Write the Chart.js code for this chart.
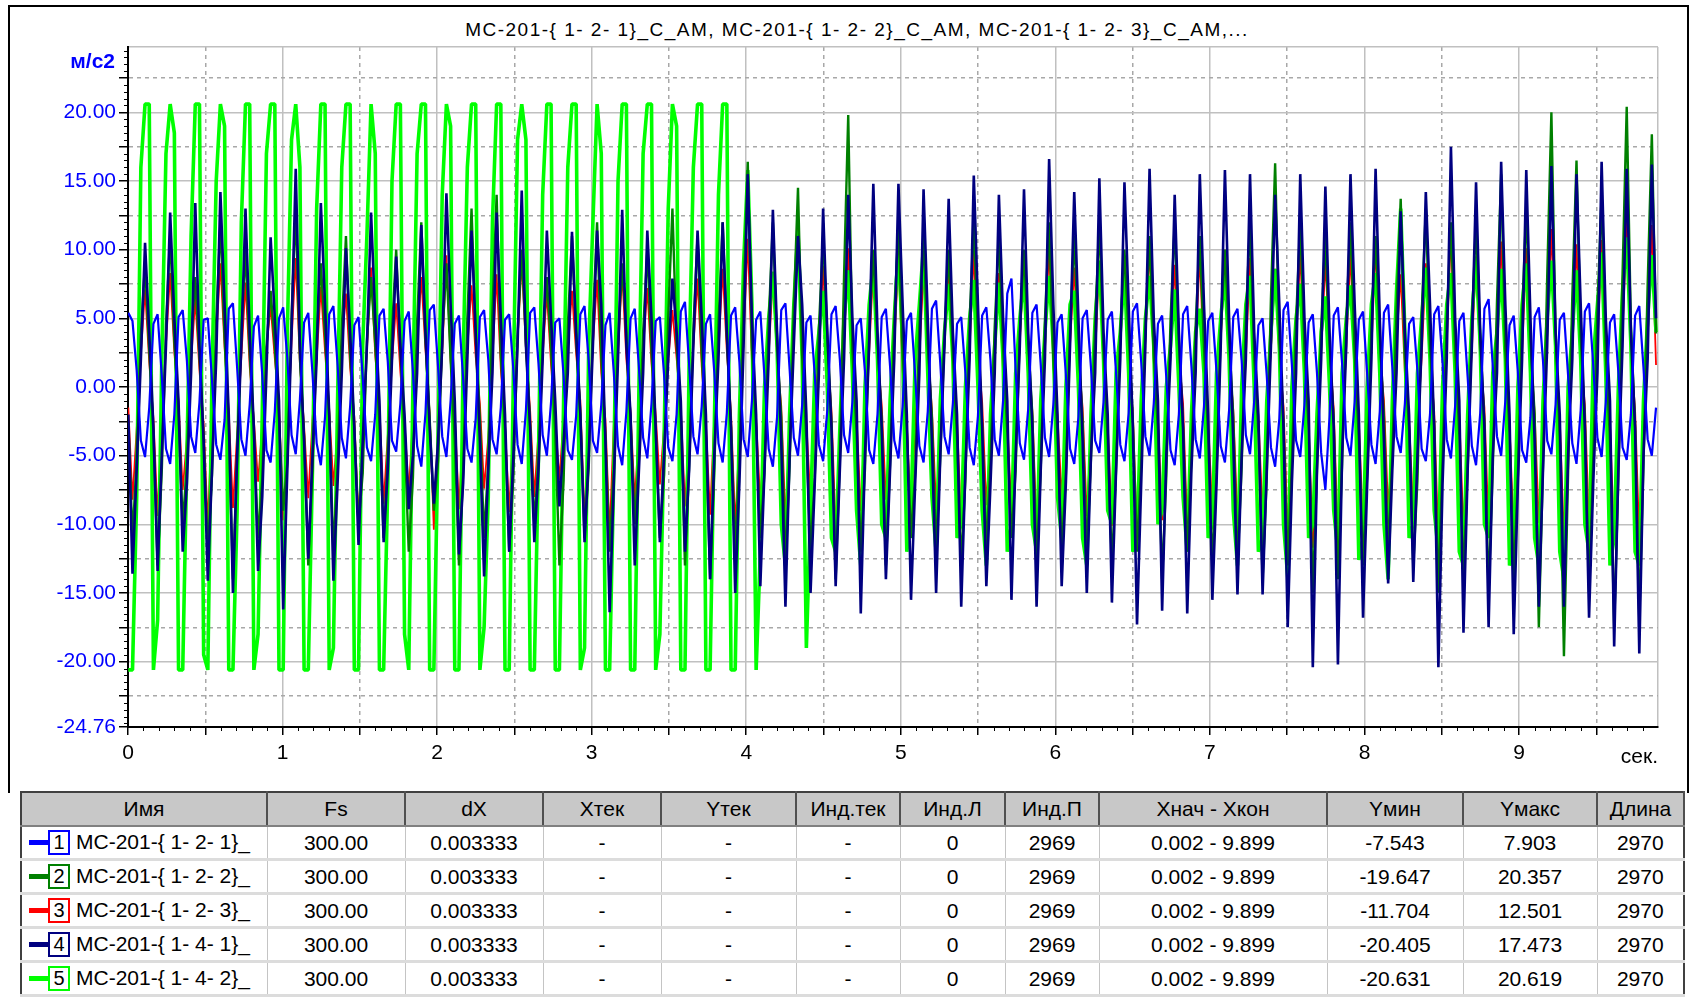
<!DOCTYPE html>
<html lang="ru">
<head>
<meta charset="utf-8">
<title>MC-201</title>
<script src="https://cdn.jsdelivr.net/npm/chart.js@4.4.1/dist/chart.umd.min.js"></script>
<style>
  body { margin: 0; background: #fff; font-family: "Liberation Sans", Arial, sans-serif; }
  #frame { position: absolute; left: 8px; top: 5px; width: 1677px; height: 786px; border: 2px solid #000; border-bottom: none; }
  #title { position: absolute; left: 357px; top: 19px; width: 1000px; text-align: center; font-size: 19px; letter-spacing: 1.5px; line-height: 22px; color: #000; white-space: nowrap; }
  #wrap { position: absolute; left: 0; top: 0; width: 1695px; height: 790px; }
  table { position: absolute; left: 20px; top: 791px; width: 1663px; border-collapse: collapse; table-layout: fixed; font-size: 21px; border: 2px solid #404040; }
  th { background: #c8c8c8; font-weight: normal; height: 32px; padding: 0; border-right: 2px solid #505050; border-bottom: 2px solid #808080; }
  td { height: 31px; padding: 0; text-align: center; border-right: 1px solid #c4c4c4; border-bottom: 3px solid #dcdcdc; white-space: nowrap; overflow: hidden; }
  td.name { text-align: left; }
  .mk { display: inline-block; vertical-align: middle; width: 19px; height: 5px; margin-left: 7px; }
  .bx { display: inline-block; vertical-align: middle; width: 18px; height: 21px; border: 2px solid; line-height: 21px; text-align: center; font-size: 20px; color: #000; margin-right: 6px; }
</style>
</head>
<body>
<div id="frame"></div>
<div id="title">MC-201-{ 1- 2- 1}_C_AM, MC-201-{ 1- 2- 2}_C_AM, MC-201-{ 1- 2- 3}_C_AM,...</div>
<div id="wrap"><canvas id="signals" width="1695" height="790"></canvas></div>
<table id="info"></table>
<script>
const ctx = document.getElementById('signals');

// time base of the plotted samples (every ~8th sample, 6 per cycle)
const t0 = 0.002;
const step = 0.02708;

const names = ['MC-201-{ 1- 2- 1}_', 'MC-201-{ 1- 2- 2}_', 'MC-201-{ 1- 2- 3}_', 'MC-201-{ 1- 4- 1}_', 'MC-201-{ 1- 4- 2}_'];
const colors = ['#0000ff', '#008000', '#ff0000', '#000080', '#00ff00'];
const lineWidths = [2.2, 2.4, 1.8, 2.6, 3.6];
const drawOrder = [1, 3, 5, 2, 4];
const yMin = ['-7.543', '-19.647', '-11.704', '-20.405', '-20.631'];
const yMax = ['7.903', '20.357', '12.501', '17.473', '20.619'];

const xTickValues = [0, 0.5, 1, 1.5, 2, 2.5, 3, 3.5, 4, 4.5, 5, 5.5, 6, 6.5, 7, 7.5, 8, 8.5, 9, 9.5, 9.899];
const yTickValues = [-24.76, -22.5, -20, -17.5, -15, -12.5, -10, -7.5, -5, -2.5, 0, 2.5, 5, 7.5, 10, 12.5, 15, 17.5, 20, 22.5, 24.76];

// 1-2-1 (blue)
const acc1 = [
  5.4, 4.8, 1.2, -3.9, -5.1, -1.5,  4.6, 5.3, 0.8, -4.5, -5.6, -2.0,
  5.1, 5.6, 1.9, -3.6, -4.8, -1.1,  4.9, 5.0, 0.5, -4.2, -5.3, -2.4,
  5.7, 6.1, 1.4, -3.8, -5.0, -1.3,  4.4, 5.2, 0.9, -4.6, -5.5, -1.8,
  5.0, 5.8, 2.1, -3.5, -4.9, -0.9,  4.7, 5.4, 1.0, -4.1, -5.7, -2.2,
  5.3, 5.9, 1.6, -3.7, -5.2, -1.4,  4.5, 5.1, 0.7, -4.4, -5.4, -2.0,
  5.2, 5.7, 1.8, -3.9, -4.7, -1.2,  4.8, 5.5, 1.1, -4.3, -5.8, -1.9,
  5.6, 6.0, 1.5, -3.6, -5.1, -1.0,  4.6, 5.2, 0.6, -4.5, -5.5, -2.3,
  5.1, 5.6, 2.0, -3.8, -4.9, -1.5,  4.9, 5.3, 1.2, -4.2, -5.6, -1.7,
  5.4, 5.8, 1.7, -3.5, -5.0, -1.1,  4.7, 5.0, 0.8, -4.6, -5.3, -2.1,
  5.3, 5.9, 1.9, -3.9, -4.8, -1.3,  4.5, 5.4, 1.0, -4.3, -5.7, -1.8,
  5.0, 5.7, 1.4, -3.7, -5.2, -1.2,  4.8, 5.1, 0.9, -4.4, -5.4, -2.0,
  5.5, 6.2, 1.6, -3.6, -4.9, -1.4,  4.6, 5.3, 1.1, -4.1, -5.5, -1.9,
  5.2, 5.8, 1.8, -3.8, -5.1, -1.0,  4.9, 5.5, 0.7, -4.5, -5.8, -2.2,
  5.6, 6.1, 1.3, -3.7, -5.0, -1.3,  4.7, 5.2, 0.9, -4.2, -5.4, -1.7,
  5.3, 5.9, 2.0, -3.5, -4.8, -1.1,  4.5, 5.0, 1.1, -4.6, -5.6, -2.0,
  5.1, 5.7, 1.5, -3.9, -5.2, -1.4,  4.8, 5.4, 0.8, -4.3, -5.5, -1.8,
  5.7, 6.3, 1.7, -3.6, -4.9, -1.2,  4.6, 5.1, 1.0, -4.4, -5.7, -2.1,
  5.2, 5.8, 1.9, -3.8, -5.0, -1.0,  6.8, 7.9, 1.2, -4.1, -5.3, -1.6,
  5.4, 6.0, 1.6, -3.7, -5.1, -1.3,  4.7, 5.3, 0.9, -4.5, -5.6, -2.2,
  5.0, 5.6, 1.4, -3.9, -4.8, -1.1,  4.9, 5.5, 1.0, -4.2, -5.4, -1.9,
  5.5, 6.1, 1.8, -3.6, -5.0, -1.2,  4.6, 5.2, 0.7, -4.6, -5.7, -2.0,
  5.3, 5.9, 1.5, -3.8, -5.2, -1.4,  4.8, 5.4, 1.1, -4.3, -5.5, -1.7,
  5.1, 5.7, 1.9, -3.5, -4.9, -1.0,  4.5, 5.0, 0.8, -4.4, -5.8, -2.3,
  5.6, 6.2, 1.6, -3.9, -5.1, -1.3,  4.7, 5.3, 1.0, -4.8, -7.5, -2.1,
  5.2, 5.8, 1.7, -3.7, -5.0, -1.1,  4.9, 5.5, 0.9, -4.2, -5.6, -1.8,
  5.4, 6.0, 1.4, -3.6, -4.8, -1.2,  4.6, 5.1, 1.2, -4.5, -5.4, -2.0,
  5.3, 5.9, 1.8, -3.8, -5.2, -1.4,  4.8, 5.4, 0.7, -4.3, -5.7, -1.9,
  5.7, 6.4, 1.5, -3.6, -5.0, -1.0,  4.5, 5.2, 1.0, -4.6, -5.5, -2.2,
  5.1, 5.8, 1.9, -3.9, -4.9, -1.3,  4.9, 5.4, 0.8, -4.1, -5.6, -1.7,
  5.5, 6.1, 1.6, -3.7, -5.1, -1.1,  4.7, 5.3, 1.1, -4.4, -5.3, -2.0,
  5.2, 5.9, 1.4, -3.8, -5.0, -1.5
];

// 1-2-2 (green)
const acc2 = [
  -2.6, -11.0, -5.2, 3.8, 9.0, 2.7,  -3.4, -13.0, -6.1, 4.5, 11.0, 3.3,
  -2.1, -10.0, -5.7, 3.1, 8.0, 2.2,  -3.8, -12.0, -6.4, 4.9, 12.0, 3.6,
  -2.9, -14.0, -5.0, 4.0, 10.0, 2.5,  -3.2, -11.0, -6.7, 2.9, 7.0, 3.0,
  -2.4, -9.0, -5.5, 5.2, 13.0, 2.1,  -3.6, -13.0, -6.0, 3.6, 9.0, 3.8,
  -2.2, -12.0, -5.8, 4.3, 11.0, 2.4,  -3.0, -10.0, -6.3, 3.3, 8.0, 3.1,
  -2.7, -11.0, -5.1, 4.1, 10.0, 2.6,  -3.5, -12.0, -6.6, 4.7, 12.0, 3.4,
  -2.3, -9.0, -5.4, 3.5, 9.0, 2.0,  -3.9, -13.0, -6.2, 5.0, 13.0, 3.7,
  -2.5, -11.0, -5.6, 5.5, 14.0, 2.3,  -3.1, -12.0, -6.5, 3.9, 10.0, 3.2,
  -2.8, -10.0, -5.3, 3.2, 8.0, 2.8,  -3.3, -13.0, -6.8, 4.4, 11.0, 3.5,
  -2.0, -11.0, -5.9, 4.8, 12.0, 2.2,  -3.7, -12.0, -6.0, 3.4, 9.0, 3.9,
  -2.6, -10.0, -5.2, 4.0, 10.0, 2.6,  -3.2, -11.0, -6.4, 5.1, 13.0, 3.1,
  -2.4, -13.0, -5.7, 4.2, 11.0, 2.4,  -3.6, -14.0, -6.1, 4.6, 12.0, 3.6,
  -2.9, -12.0, -5.5, 6.5, 16.4, 2.9,  -3.0, -11.0, -6.2, 4.7, 12.0, 3.0,
  -2.2, -13.0, -5.8, 5.8, 14.5, 2.2,  -3.8, -12.0, -6.6, 4.3, 11.0, 3.8,
  -2.7, -14.0, -5.3, 8.0, 19.8, 2.7,  -3.4, -12.0, -6.0, 3.9, 10.0, 3.4,
  -2.5, -13.0, -5.6, 4.8, 12.0, 2.5,  -3.1, -11.0, -6.3, 4.4, 11.0, 3.1,
  -2.3, -12.0, -5.1, 3.9, 10.0, 2.3,  -3.7, -13.0, -6.7, 4.8, 12.0, 3.7,
  -2.8, -12.0, -5.4, 4.4, 11.0, 2.8,  -3.3, -11.0, -6.1, 4.0, 10.0, 3.3,
  -2.1, -13.0, -5.9, 4.9, 12.0, 2.1,  -3.5, -12.0, -6.4, 4.3, 11.0, 3.5,
  -2.6, -12.0, -5.2, 4.7, 12.0, 2.6,  -3.9, -13.0, -6.0, 4.1, 10.0, 3.9,
  -2.4, -12.0, -5.7, 4.5, 11.0, 2.4,  -3.2, -14.0, -6.5, 4.8, 12.0, 3.2,
  -2.9, -12.0, -5.3, 4.4, 11.0, 2.9,  -3.6, -13.0, -6.2, 4.0, 10.0, 3.6,
  -2.2, -13.0, -5.8, 4.9, 12.0, 2.2,  -3.4, -14.0, -6.6, 6.5, 16.3, 3.4,
  -2.7, -13.0, -5.5, 4.8, 12.0, 2.7,  -3.0, -15.0, -6.1, 4.4, 11.0, 3.0,
  -2.5, -14.0, -5.6, 4.9, 12.0, 2.5,  -3.8, -13.0, -6.3, 4.5, 11.0, 3.8,
  -2.3, -12.0, -5.0, 5.5, 13.7, 2.3,  -3.1, -13.0, -6.8, 5.2, 13.0, 3.1,
  -2.8, -15.0, -5.4, 4.8, 12.0, 2.8,  -3.5, -14.0, -6.0, 4.7, 12.0, 3.5,
  -2.6, -15.0, -5.9, 6.2, 15.5, 2.6,  -3.3, -14.0, -6.4, 5.2, 13.0, 3.3,
  -2.0, -17.5, -5.7, 8.0, 20.0, 4.0,  -3.7, -19.6, -6.2, 6.6, 16.5, 3.7,
  -2.4, -15.0, -5.3, 5.6, 14.0, 2.4,  -3.9, -17.5, -6.7, 8.2, 20.4, 4.5,
  -2.9, -17.0, -5.6, 7.4, 18.4, 3.9
];

// 1-2-3 (red)
const acc3 = [
  -1.5, -8.2, -3.1, 2.4, 7.1, 1.8,  -2.3, -9.4, -2.6, 3.1, 8.3, 2.5,
  -1.1, -7.5, -3.8, 1.9, 6.4, 1.2,  -2.7, -10.1, -2.2, 3.5, 9.0, 2.9,
  -1.8, -8.8, -3.4, 2.2, 7.6, 1.5,  -2.4, -6.9, -2.9, 2.8, 5.9, 2.1,
  -1.3, -9.7, -3.6, 3.3, 9.4, 1.7,  -2.9, -8.1, -2.4, 2.0, 7.3, 2.6,
  -1.6, -7.2, -3.2, 3.0, 6.8, 1.4,  -2.2, -9.9, -2.7, 2.6, 8.7, 2.3,
  -1.4, -8.5, -3.5, 1.8, 6.1, 1.1,  -2.6, -7.7, -2.3, 3.2, 8.0, 2.7,
  -1.9, -10.4, -3.0, 2.5, 9.6, 1.9,  -2.1, -8.9, -2.8, 2.9, 7.4, 2.2,
  -1.2, -7.4, -3.7, 2.1, 8.2, 1.3,  -2.8, -9.1, -2.5, 3.4, 9.2, 2.8,
  -1.7, -8.0, -3.3, 2.3, 6.9, 1.6,  -2.5, -6.8, -2.1, 2.7, 7.0, 2.4,
  -1.0, -9.6, -3.9, 3.1, 7.8, 1.0,  -2.4, -10.8, -2.6, 2.4, 8.4, 2.0,
  -1.8, -8.3, -3.1, 2.8, 7.2, 1.7,  -2.0, -7.1, -2.9, 1.9, 5.6, 2.1,
  -1.5, -8.7, -3.4, 3.0, 7.9, 1.5,  -2.7, -9.3, -2.2, 2.6, 8.6, 2.6,
  -1.9, -10.2, -3.6, 3.6, 10.8, 1.8,  -2.3, -8.6, -2.7, 2.3, 8.1, 2.2,
  -1.4, -9.8, -3.2, 4.1, 12.5, 1.4,  -2.6, -8.4, -2.4, 2.7, 8.8, 2.5,
  -1.7, -10.5, -3.8, 3.3, 10.1, 1.9,  -2.2, -9.0, -2.5, 2.5, 8.9, 2.3,
  -1.3, -8.2, -3.3, 3.0, 9.3, 1.2,  -2.8, -9.5, -2.6, 2.2, 8.5, 2.7,
  -1.6, -8.8, -3.5, 3.4, 9.0, 1.6,  -2.5, -10.0, -2.3, 2.8, 9.8, 2.4,
  -1.1, -8.6, -3.7, 2.1, 8.3, 1.1,  -2.4, -9.2, -2.8, 3.2, 9.5, 2.3,
  -1.8, -10.3, -3.0, 2.6, 10.4, 1.7,  -2.1, -8.0, -2.9, 3.1, 8.7, 2.0,
  -1.5, -9.4, -3.4, 2.4, 9.1, 1.5,  -2.7, -10.1, -2.2, 2.9, 9.6, 2.6,
  -1.9, -10.9, -3.6, 3.5, 10.2, 1.8,  -2.3, -9.7, -2.5, 2.3, 8.9, 2.2,
  -1.2, -10.4, -3.2, 2.7, 9.7, 1.3,  -2.6, -9.1, -2.6, 3.3, 10.0, 2.5,
  -1.7, -9.8, -3.8, 2.2, 9.4, 1.6,  -2.2, -9.3, -2.4, 2.8, 8.6, 2.1,
  -1.4, -10.7, -3.1, 3.1, 9.9, 1.4,  -2.8, -11.7, -2.7, 2.5, 9.2, 2.8,
  -1.6, -11.2, -3.5, 3.0, 9.8, 1.5,  -2.5, -10.3, -2.3, 2.6, 10.3, 2.4,
  -1.0, -9.0, -3.9, 3.4, 8.2, 1.0,  -2.4, -9.2, -2.8, 2.1, 9.0, 2.3,
  -1.8, -11.4, -3.0, 3.2, 11.2, 1.7,  -2.0, -10.6, -2.9, 2.7, 9.5, 2.0,
  -1.5, -10.4, -3.4, 3.6, 10.6, 1.5,  -2.7, -10.8, -2.2, 2.4, 10.1, 2.6,
  -1.9, -9.9, -3.6, 3.8, 11.5, 1.8,  -2.3, -11.0, -2.5, 3.0, 10.4, 2.2,
  -1.3, -10.2, -3.3, 2.8, 10.7, 1.3,  -2.6, -11.3, -2.6, 3.9, 12.1, 2.5,
  -1.7, -11.1, -3.7, 3.4, 11.8, 1.6
];

// 1-4-1 (navy)
const acc4 = [
  -2, -13.6, -6, 2, 10.5, 4,  -3, -13.4, -5, 3, 12.7, 5,
  -1, -12.0, -7, 1, 13.4, 3,  -4, -14.1, -6, 2, 14.2, 6,
  -2, -15.0, -5, 3, 13.0, 4,  -3, -13.4, -8, 1, 10.9, 5,
  -1, -16.2, -6, 4, 15.9, 3,  -4, -12.5, -5, 2, 13.4, 6,
  -2, -14.1, -7, 1, 10.1, 4,  -3, -11.5, -4, 3, 12.7, 5,
  -1, -11.3, -6, 2, 9.5, 3,  -2, -8.9, -5, 1, 11.8, 4,
  -3, -8.5, -4, 3, 14.1, 6,  -1, -12.2, -7, 2, 11.4, 4,
  -4, -13.8, -6, 1, 12.7, 5,  -2, -12.0, -5, 3, 14.3, 3,
  -3, -11.3, -6, 2, 11.4, 5,  -1, -8.7, -4, 1, 11.3, 4,
  -2, -11.3, -5, 3, 11.4, 6,  -4, -16.4, -7, 2, 12.9, 3,
  -2, -13.0, -6, 1, 11.4, 5,  -3, -11.3, -5, 2, 7.9, 4,
  -1, -12.0, -6, 3, 11.4, 5,  -2, -14.0, -5, 2, 12.0, 4,
  -3, -15.0, -7, 3, 15.5, 5,  -2, -14.5, -6, 2, 12.9, 4,
  -4, -16.0, -5, 3, 11.0, 6,  -2, -15.0, -7, 1, 13.0, 4,
  -3, -14.5, -6, 2, 14.0, 5,  -1, -16.5, -5, 3, 14.8, 4,
  -3, -14.0, -6, 2, 14.8, 6,  -2, -15.5, -7, 1, 14.4, 5,
  -4, -15.0, -5, 3, 13.7, 4,  -2, -16.0, -6, 2, 15.4, 6,
  -3, -14.5, -7, 1, 14.0, 5,  -1, -15.5, -5, 3, 14.4, 4,
  -3, -16.0, -6, 2, 16.6, 6,  -2, -14.5, -7, 3, 14.2, 5,
  -4, -15.0, -5, 1, 15.2, 4,  -2, -15.7, -6, 2, 14.9, 6,
  -3, -17.3, -7, 3, 15.9, 5,  -1, -16.3, -5, 2, 14.0, 4,
  -3, -16.5, -6, 1, 15.5, 6,  -2, -15.5, -7, 3, 15.8, 5,
  -4, -15.1, -5, 2, 15.5, 4,  -2, -15.1, -6, 3, 14.0, 6,
  -3, -17.5, -7, 1, 15.5, 5,  -1, -20.4, -6, 2, 14.6, 4,
  -3, -20.2, -5, 3, 15.5, 6,  -2, -16.8, -7, 2, 15.9, 5,
  -4, -14.3, -6, 1, 12.8, 4,  -2, -14.2, -5, 3, 14.2, 6,
  -3, -20.4, -7, 2, 17.5, 5,  -1, -17.9, -6, 3, 14.9, 4,
  -3, -17.5, -5, 1, 16.4, 6,  -2, -18.0, -7, 2, 15.8, 5,
  -4, -16.0, -6, 3, 16.1, 4,  -2, -16.0, -5, 2, 15.5, 6,
  -3, -16.8, -7, 1, 16.4, 5,  -1, -18.9, -6, 3, 15.9, 4,
  -3, -19.4, -5, 2, 16.2, 5
];

// 1-4-2 (light green)
const acc5 = [
  -20.6, -20.6, -8, 16, 20.6, 20.6,  -20.6, -17, 2, 17, 20.6, 18.5,
  -20.6, -20.6, -5, 11, 20.6, 20.6,  -19.5, -20.6, 1, 15, 20.6, 19,
  -20.6, -20.6, -9, 12, 20.6, 20.6,  -20.6, -18, -2, 17, 20.6, 20.6,
  -20.6, -20.6, 4, 18, 20.6, 16,  -20.6, -20.6, -6, 13, 20.6, 20.6,
  -20.6, -19, -1, 16, 20.6, 20.6,  -20.6, -20.6, 3, 11, 20.6, 17,
  -20.6, -20.6, -7, 15, 20.6, 20.6,  -18, -20.6, 0, 17, 20.6, 20.6,
  -20.6, -20.6, -4, 14, 20.6, 19,  -20.6, -20.6, 2, 16, 20.6, 20.6,
  -20.6, -17.5, -8, 12, 20.6, 20.6,  -20.6, -20.6, 1, 18, 20.6, 18,
  -20.6, -20.6, -5, 14, 20.6, 20.6,  -20.6, -20.6, -1, 16, 20.6, 20.6,
  -20.6, -19, 3, 12, 20.6, 17,  -20.6, -20.6, -6, 15, 20.6, 20.6,
  -20.6, -20.6, 0, 17, 20.6, 20.6,  -20.6, -18, -4, 13, 20.6, 19,
  -20.6, -20.6, 2, 16, 20.6, 20.6,  -20.6, -20.6, -3, 14, 20.6, 20.6,
  -20.6, -20.6, -2, 9, 15.8, 6,  -20.6, -12, 0, 5, 8.4, 3,
  -10, -13, -2, 6, 11.4, 2,  -19, -9, 1, 4, 7, 0,
  -11, -12, -3, 5, 8.5, 1,  -9, -13, 0, 6, 9, 2,
  -10, -11, -1, 5, 10.3, 3,  -12, -9, 2, 6, 10.3, 1,
  -8, -12, -1, 4, 7.5, 2,  -11, -10, 0, 5, 7.8, 0,
  -9, -13, -2, 3, 7.6, 2,  -12, -10, 1, 5, 8.1, 1,
  -10, -12, -1, 4, 8.1, 3,  -8, -11, 0, 6, 7, 0,
  -11, -13, -2, 5, 9.2, 2,  -9, -10, 1, 4, 8.4, 1,
  -12, -11, -1, 5, 8.1, 3,  -10, -9, 0, 3, 7.1, 0,
  -8, -12, -2, 4, 5.7, 1,  -11, -10, 1, 5, 8.2, 2,
  -9, -13, 0, 6, 8.1, 0,  -12, -11, -1, 4, 8.6, 3,
  -10, -13.8, 0, 5, 7.5, 1,  -11, -10, -2, 4, 6.6, 0,
  -9, -12, 1, 5, 7.4, 2,  -12.6, -11, 0, 6, 8.3, 1,
  -10, -14, -1, 7, 13, 4,  -11, -10, 1, 5, 8.7, 2,
  -9, -12, 0, 6, 8.3, 1,  -12, -13, -2, 5, 9.5, 3,
  -10, -11, 1, 4, 8.6, 2,  -13, -12, 0, 6, 9.0, 1,
  -11, -13, -1, 5, 9.2, 3,  -12, -14, 0, 4, 8.5, 2,
  -10, -12, 2, 6, 9.8, 1,  -13, -11, 0, 7, 10.9, 3,
  -12, -13, -1, 5, 9.6, 4
];

const seriesValues = [acc1, acc2, acc3, acc4, acc5];
const time = acc1.map((v, i) => +(t0 + i * step).toFixed(4));

const fontFamily = "'Liberation Sans', Arial, sans-serif";
const isWhole = (v) => Math.abs(v - Math.round(v)) < 1e-9;
const isFive = (v) => Math.abs(v / 5 - Math.round(v / 5)) < 1e-9;

// minor ticks on both axes + unit captions
const axisExtras = {
    id: 'axisExtras',
    afterDraw(chart) {
        const {ctx: c, chartArea: a, scales: {x, y}} = chart;
        c.save();
        c.strokeStyle = '#000';
        c.lineWidth = 1;
        c.beginPath();
        for (let i = 1; i < 99; i++) {
            if (i % 5 === 0) continue;
            const px = Math.round(x.getPixelForValue(i / 10)) + 0.5;
            c.moveTo(px, a.bottom);
            c.lineTo(px, a.bottom + 4);
        }
        for (let i = -49; i <= 49; i++) {
            if (i % 5 === 0) continue;
            const py = Math.round(y.getPixelForValue(i / 2)) + 0.5;
            c.moveTo(a.left - 4, py);
            c.lineTo(a.left, py);
        }
        c.stroke();
        c.fillStyle = '#0000ff';
        c.font = 'bold 21px ' + fontFamily;
        c.textAlign = 'right';
        c.textBaseline = 'middle';
        c.fillText('м/с2', a.left - 13, a.top + 15);
        c.fillStyle = '#000';
        c.font = '21px ' + fontFamily;
        c.fillText('сек.', a.right, a.bottom + 30);
        c.restore();
    }
};

function renderChart(container) {
    new Chart(container, {
        type: 'line',
        data: {
            datasets: seriesValues.map((vals, s) => ({
                label: names[s],
                data: vals.map((v, i) => ({x: time[i], y: v})),
                borderColor: colors[s],
                borderWidth: lineWidths[s],
                borderJoinStyle: 'bevel',
                pointRadius: 0,
                tension: 0,
                fill: false,
                order: drawOrder[s]
            }))
        },
        options: {
            responsive: false,
            animation: false,
            events: [],
            layout: {padding: {top: 47, right: 37, left: 0, bottom: 0}},
            plugins: {legend: {display: false}, tooltip: {enabled: false}},
            scales: {
                x: {
                    type: 'linear',
                    min: 0,
                    max: 9.899,
                    afterBuildTicks: (s) => { s.ticks = xTickValues.map((v) => ({value: v})); },
                    afterFit: (s) => { s.height = 63; s.paddingLeft = 0; s.paddingRight = 0; },
                    ticks: {
                        autoSkip: false,
                        maxRotation: 0,
                        padding: 6,
                        color: '#000',
                        font: {family: fontFamily, size: 21},
                        callback: (v) => isWhole(v) ? String(v) : ''
                    },
                    grid: {
                        color: (c) => c.tick && !isWhole(c.tick.value) && c.tick.value !== 9.899 ? '#a8a8a8' : '#c0c0c0',
                        lineWidth: 1.5,
                        tickLength: 8,
                        tickColor: (c) => c.tick && c.tick.value === 9.899 ? 'rgba(0,0,0,0)' : '#000'
                    },
                    border: {
                        color: '#000',
                        width: 2,
                        dash: (c) => c.tick && !isWhole(c.tick.value) && c.tick.value !== 9.899 ? [4, 4] : []
                    }
                },
                y: {
                    min: -24.76,
                    max: 24.76,
                    afterBuildTicks: (s) => { s.ticks = yTickValues.map((v) => ({value: v})); },
                    afterFit: (s) => { s.width = 128; s.paddingTop = 0; s.paddingBottom = 0; },
                    ticks: {
                        autoSkip: false,
                        padding: 3,
                        color: '#0000ff',
                        font: {family: fontFamily, size: 21},
                        callback: (v) => v === -24.76 || isFive(v) ? v.toFixed(2) : ''
                    },
                    grid: {
                        color: (c) => c.tick && !isFive(c.tick.value) && Math.abs(c.tick.value) !== 24.76 ? '#a8a8a8' : '#c0c0c0',
                        lineWidth: 1.5,
                        tickLength: 9,
                        tickColor: (c) => c.tick && c.tick.value === 24.76 ? 'rgba(0,0,0,0)' : '#000'
                    },
                    border: {
                        color: '#000',
                        width: 2,
                        dash: (c) => c.tick && !isFive(c.tick.value) && Math.abs(c.tick.value) !== 24.76 ? [4, 4] : []
                    }
                }
            }
        },
        plugins: [axisExtras]
    });
}

function renderTable() {
    const head = ['Имя', 'Fs', 'dX', 'Xтек', 'Yтек', 'Инд.тек', 'Инд.Л', 'Инд.П', 'Xнач - Xкон', 'Yмин', 'Yмакс', 'Длина'];
    const widths = [246, 138, 138, 118, 135, 104, 105, 94, 228, 136, 134, 87];
    let html = '<colgroup>' + widths.map((w) => `<col style="width:${w}px">`).join('') + '</colgroup>';
    html += '<tr>' + head.map((h) => `<th>${h}</th>`).join('') + '</tr>';
    names.forEach((n, s) => {
        html += '<tr>' +
            `<td class="name"><span class="mk" style="background:${colors[s]}"></span><span class="bx" style="border-color:${colors[s]}">${s + 1}</span>${n}</td>` +
            '<td>300.00</td><td>0.003333</td><td>-</td><td>-</td><td>-</td><td>0</td><td>2969</td><td>0.002 - 9.899</td>' +
            `<td>${yMin[s]}</td><td>${yMax[s]}</td><td>2970</td></tr>`;
    });
    document.getElementById('info').innerHTML = html;
}

renderTable();
renderChart(ctx);
</script>
</body>
</html>
